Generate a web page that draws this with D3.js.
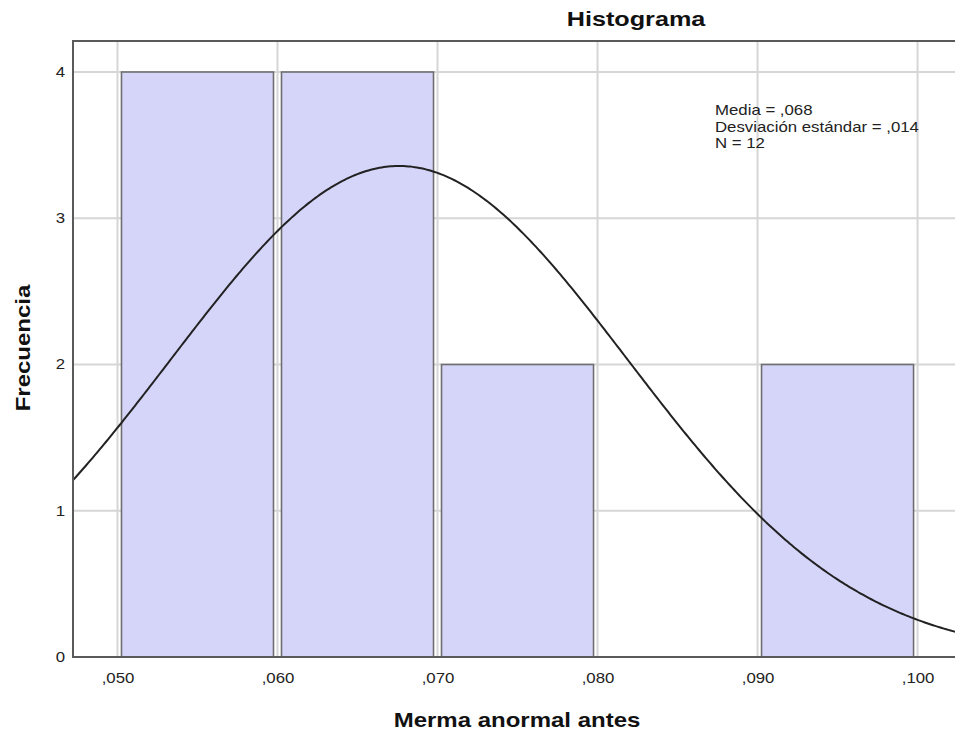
<!DOCTYPE html>
<html>
<head>
<meta charset="utf-8">
<script src="https://cdn.jsdelivr.net/npm/d3@7"></script>
<style>
  html, body { margin: 0; padding: 0; background: #fff; }
  svg { display: block; font-family: "Liberation Sans", Arial, sans-serif; }
</style>
</head>
<body>
<svg id="chart" width="955" height="736"></svg>
<script>
// Histogram bins of "Merma anormal antes"
const binStarts = [0.05, 0.06, 0.07, 0.08, 0.09];
const binWidth = 0.01;
const frequencies = [4, 4, 2, 0, 2];

// Summary statistics used for the fitted normal curve
const mean = 0.0676;
const stdDev = 0.01426;
const n = 12;

// Axis ticks
const xTicks = [0.05, 0.06, 0.07, 0.08, 0.09, 0.10];
const yTicks = [0, 1, 2, 3, 4];

const svg = d3.select("#chart");

const plotLeft = 73, plotRight = 955, plotTop = 41, plotBottom = 657;
const stretch = 1.2; // horizontally widened lettering

const x = d3.scaleLinear().domain([0.04722, 0.10234]).range([plotLeft, plotRight]);
const y = d3.scaleLinear().domain([0, 4]).range([plotBottom, 72]);

const fmtX = v => d3.format(".3f")(v).replace(/^0\./, ",");

// Places a text at (tx, ty) with widened glyphs
function placeText(sel, tx, ty, extra = "") {
  sel.attr("transform", `translate(${tx},${ty}) ${extra} scale(${stretch},1)`);
}

// Gridlines
const grid = svg.append("g");
grid.selectAll("line.v").data(xTicks).join("line")
  .attr("class", "v")
  .attr("x1", d => x(d)).attr("x2", d => x(d))
  .attr("y1", plotTop).attr("y2", plotBottom)
  .attr("stroke", "#d6d6d6").attr("stroke-width", 2);
grid.selectAll("line.h").data(yTicks.filter(d => d > 0)).join("line")
  .attr("class", "h")
  .attr("x1", plotLeft).attr("x2", plotRight)
  .attr("y1", d => y(d)).attr("y2", d => y(d))
  .attr("stroke", "#d6d6d6").attr("stroke-width", 2);

// Bars
const bins = binStarts.map((s, i) => ({ x0: s, x1: s + binWidth, count: frequencies[i] }));
svg.append("g").selectAll("rect").data(bins.filter(b => b.count > 0)).join("rect")
  .attr("x", d => x(d.x0) + 4)
  .attr("width", d => x(d.x1) - x(d.x0) - 8)
  .attr("y", d => y(d.count))
  .attr("height", d => y(0) - y(d.count))
  .attr("fill", "#d5d5fa")
  .attr("stroke", "#6e6e6e")
  .attr("stroke-width", 1.6);

// Fitted normal curve scaled to counts
const scaleFactor = n * binWidth / (stdDev * Math.sqrt(2 * Math.PI));
const curvePts = d3.range(0, 401).map(i => {
  const xv = x.domain()[0] + (x.domain()[1] - x.domain()[0]) * i / 400;
  const z = (xv - mean) / stdDev;
  return [xv, scaleFactor * Math.exp(-0.5 * z * z)];
});
svg.append("path")
  .attr("d", d3.line().x(d => x(d[0])).y(d => y(d[1]))(curvePts))
  .attr("fill", "none")
  .attr("stroke", "#222")
  .attr("stroke-width", 2);

// Frame
svg.append("path")
  .attr("d", `M${plotRight + 5},${plotTop} H${plotLeft} V${plotBottom} H${plotRight + 5}`)
  .attr("fill", "none")
  .attr("stroke", "#5a5a5a")
  .attr("stroke-width", 2);

// Axis labels
const xAxis = d3.axisBottom(x).tickValues(xTicks).tickFormat(fmtX).tickSize(0).tickPadding(16);
const gx = svg.append("g").attr("transform", `translate(0,${plotBottom})`).call(xAxis);
gx.select(".domain").remove();
gx.selectAll("text").attr("font-size", 14).attr("fill", "#222")
  .attr("font-family", "Liberation Sans, Arial, sans-serif")
  .attr("transform", `scale(${stretch},1)`);

const yAxis = d3.axisLeft(y).tickValues(yTicks).tickFormat(d3.format("d")).tickSize(0).tickPadding(8);
const gy = svg.append("g").attr("transform", `translate(${plotLeft},0)`).call(yAxis);
gy.select(".domain").remove();
gy.selectAll("text").attr("font-size", 14).attr("fill", "#222")
  .attr("font-family", "Liberation Sans, Arial, sans-serif")
  .attr("x", -8 / stretch)
  .attr("transform", `scale(${stretch},1)`);

// Titles
svg.append("text").attr("text-anchor", "middle")
  .attr("font-size", 21).attr("font-weight", "bold").attr("fill", "#111").text("Histograma")
  .call(placeText, 636, 26);
svg.append("text").attr("text-anchor", "middle")
  .attr("font-size", 20).attr("font-weight", "bold").attr("fill", "#111").text("Merma anormal antes")
  .call(placeText, 517, 727);
svg.append("text").attr("text-anchor", "middle")
  .attr("font-size", 20).attr("font-weight", "bold").attr("fill", "#111").text("Frecuencia")
  .call(placeText, 30, 348, "rotate(-90)");

// Statistics box
const stats = [
  `Media = ${fmtX(mean)}`,
  `Desviación estándar = ${fmtX(stdDev)}`,
  `N = ${n}`
];
svg.append("g").selectAll("text").data(stats).join("text")
  .attr("font-size", 14).attr("fill", "#222").text(d => d)
  .each(function (d, i) { d3.select(this).call(placeText, 715, 115 + i * 16.5); });
</script>
</body>
</html>
